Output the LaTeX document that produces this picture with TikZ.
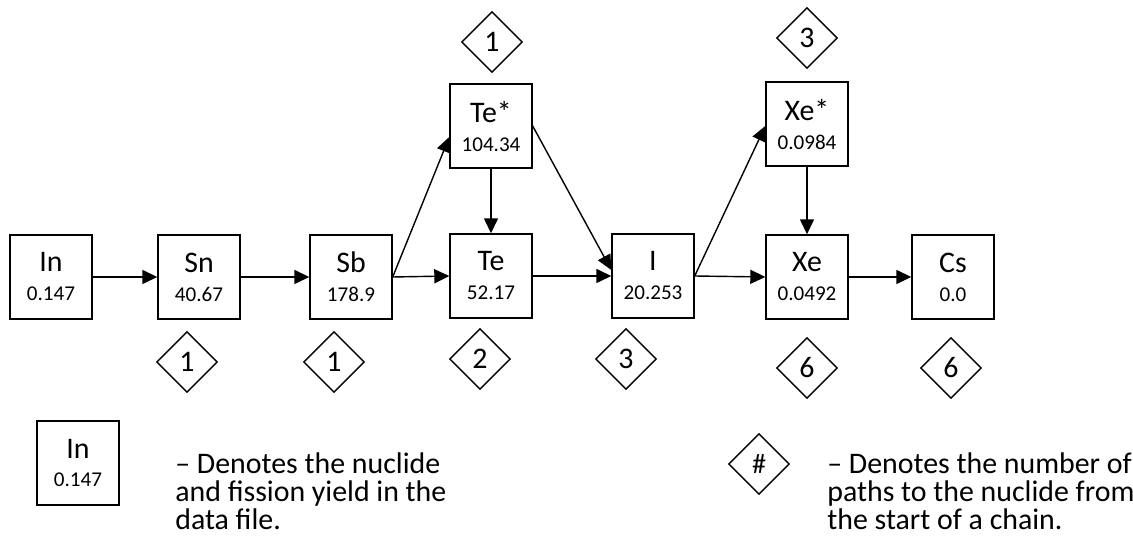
\documentclass[tikz,border=0pt]{standalone}
\usepackage{fontspec}
\setmainfont{Carlito}
\usetikzlibrary{shapes.geometric, arrows.meta}

\newcommand{\nuc}[2]{{\fontsize{17}{16.5}\selectfont #1}\\{\fontsize{12}{16.5}\selectfont #2}}
\newcommand{\legendfont}{\fontsize{17}{15.8}\selectfont\lineskiplimit=-20pt\relax}

\begin{document}
\begin{tikzpicture}
            [x=0.02cm, y=-0.02cm,
             nuclide/.style={draw, shape=rectangle, line width=0.8pt, inner sep=0, minimum width=1.64cm, minimum height=1.68cm, align=center, font=\fontsize{12}{16.5}\selectfont},
             paths/.style={draw, shape=diamond, aspect=1, line width=0.8pt, inner sep=0, minimum width=1.22cm, minimum height=1.22cm, font=\fontsize{17}{20}\selectfont},
             legend/.style={inner sep=0, anchor=west, align=left, font=\legendfont},
             arr/.style={-{Triangle[length=0.3cm, width=0.28cm]}, line width=0.8pt, black}]

            \useasboundingbox (0, 0) rectangle (1133, 546);

            \node[nuclide] (In) at (51, 277) {\nuc{In}{0.147}};
            \node[nuclide] (Sn) at (199, 277) {\nuc{Sn}{40.67}};
            \node[nuclide] (Sb) at (351, 277) {\nuc{Sb}{178.9}};
            \node[nuclide] (Tes) at (491, 126) {\nuc{Te*}{104.34}};
            \node[nuclide] (Te) at (491, 276) {\nuc{Te}{52.17}};
            \node[nuclide] (I) at (653, 276) {\nuc{I}{20.253}};
            \node[nuclide] (Xes) at (807, 124) {\nuc{Xe*}{0.0984}};
            \node[nuclide] (Xe) at (807, 277) {\nuc{Xe}{0.0492}};
            \node[nuclide] (Cs) at (953, 277) {\nuc{Cs}{0.0}};

            \node[paths] (pTes) at (492, 42) {1};
            \node[paths] (pXes) at (807, 38) {3};
            \node[paths] (pSn) at (187, 362) {1};
            \node[paths] (pSb) at (334, 362) {1};
            \node[paths] (pTe) at (480, 359) {2};
            \node[paths] (pI) at (626, 359) {3};
            \node[paths] (pXe) at (807, 368) {6};
            \node[paths] (pCs) at (951, 368) {6};

            \draw[arr] (In.east) -- (Sn.west);
            \draw[arr] (Sn.east) -- (Sb.west);
            \draw[arr] (Sb.east) -- (Te.west);
            \draw[arr] (Sb.east) -- ([yshift=-0.22cm]Tes.west);
            \draw[arr] (Tes.south) -- (Te.north);
            \draw[arr] (Tes.east) -- ([yshift=0.12cm]I.west);
            \draw[arr] (Te.east) -- (I.west);
            \draw[arr] (I.east) -- (Xe.west);
            \draw[arr] (I.east) -- ([yshift=-0.04cm]Xes.west);
            \draw[arr] (Xes.south) -- (Xe.north);
            \draw[arr] (Xe.east) -- (Cs.west);

            \node[nuclide, font=\fontsize{11}{16}\selectfont] (key) at (78, 463) {\nuc{In}{0.147}};
            \node[legend] (keytext) at (175, 491) {-- Denotes the nuclide\\and fission yield in the\\data file.};
            \node[paths, font=\fontsize{16}{16}\selectfont] (hash) at (759, 464) {\#};
            \node[legend] (hashtext) at (827, 491) {-- Denotes the number of\\paths to the nuclide from\\the start of a chain.};
          \end{tikzpicture}
\end{document}
